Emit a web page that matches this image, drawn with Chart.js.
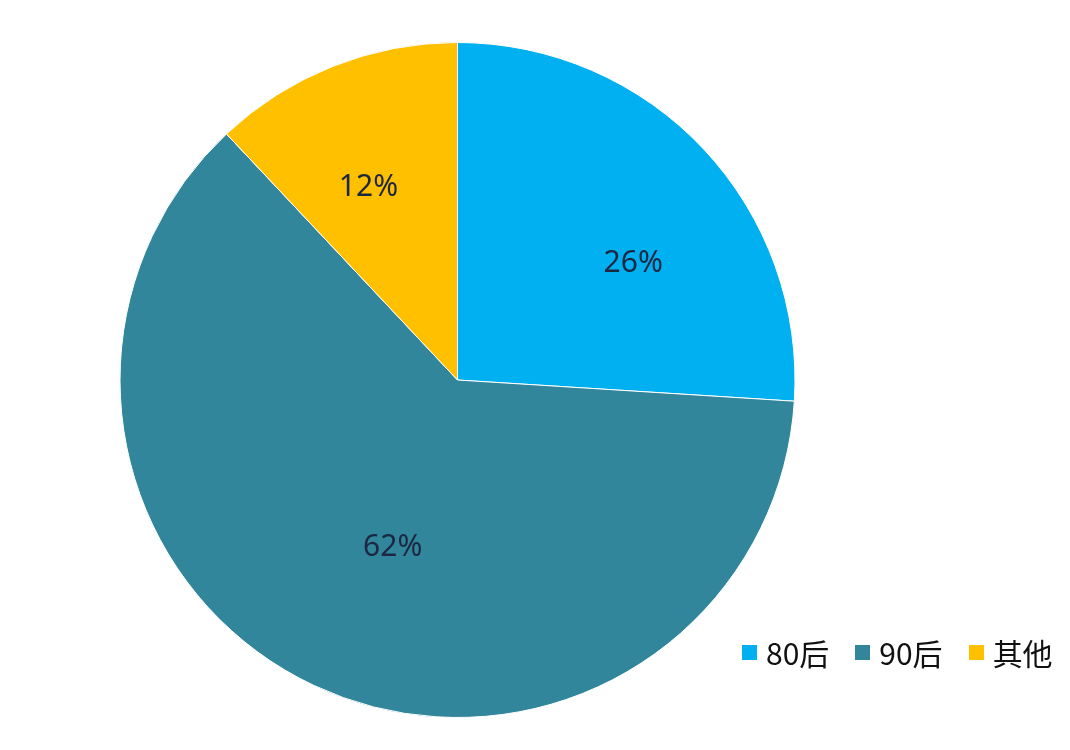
<!DOCTYPE html>
<html>
<head>
<meta charset="utf-8">
<script src="https://cdn.jsdelivr.net/npm/chart.js@4.4.1/dist/chart.umd.min.js"></script>
<style>
  html, body { margin: 0; padding: 0; background: #fff; }
  #wrap { position: relative; width: 1070px; height: 750px; overflow: hidden; }
  #legend {
    position: absolute; left: 742px; top: 630px;
    display: flex; align-items: center;
    white-space: nowrap; width: max-content;
    font-family: "Noto Sans CJK SC", "Noto Sans", sans-serif;
    font-size: 30px; line-height: 44px; color: #111;
  }
  #legend .item { display: flex; align-items: center; margin-right: 26px; }
  #legend .box { width: 15px; height: 15px; margin-right: 9px; flex: none; }
</style>
</head>
<body>
<div id="wrap">
  <canvas id="pie" width="1070" height="750"></canvas>
  <div id="legend"></div>
</div>
<script>
// données
const categories = ['80后', '90后', '其他'];
const shares     = [26, 62, 12];
const labels     = ['26%', '62%', '12%'];

const COLORS = ['#00B0F0', '#31869B', '#FFC000'];
const LABEL_R  = [0.625, 0.533, 0.629]; // fraction du rayon pour chaque étiquette
const LABEL_DA = [9.6, -4.1, -3.2];     // décalage angulaire (degrés) par rapport au milieu de la part

// étiquettes dans les parts
const sliceLabels = {
  id: 'sliceLabels',
  afterDatasetsDraw(chart) {
    const { ctx } = chart;
    const meta = chart.getDatasetMeta(0);
    ctx.save();
    ctx.font = '30px "Noto Sans", "Open Sans", sans-serif';
    ctx.fillStyle = '#1c2742';
    ctx.textAlign = 'center';
    ctx.textBaseline = 'middle';
    meta.data.forEach((arc, i) => {
      const mid = (arc.startAngle + arc.endAngle) / 2 + LABEL_DA[i] * Math.PI / 180;
      const r = arc.outerRadius * LABEL_R[i];
      ctx.fillText(labels[i], arc.x + Math.cos(mid) * r, arc.y + Math.sin(mid) * r);
    });
    ctx.restore();
  },
};

new Chart(document.getElementById('pie'), {
  type: 'pie',
  data: {
    labels: categories,
    datasets: [{
      data: shares,
      backgroundColor: COLORS,
      borderColor: '#ffffff',
      borderWidth: 1,
    }],
  },
  options: {
    responsive: false,
    animation: false,
    layout: { padding: { left: 119, right: 274, top: 42, bottom: 32 } },
    plugins: {
      legend: { display: false },
      tooltip: { enabled: false },
    },
  },
  plugins: [sliceLabels],
});

// légende HTML en bas à droite
const legend = document.getElementById('legend');
categories.forEach((c, i) => {
  const item = document.createElement('div');
  item.className = 'item';
  const box = document.createElement('span');
  box.className = 'box';
  box.style.background = COLORS[i];
  const txt = document.createElement('span');
  txt.textContent = c;
  item.appendChild(box);
  item.appendChild(txt);
  legend.appendChild(item);
});
</script>
</body>
</html>
